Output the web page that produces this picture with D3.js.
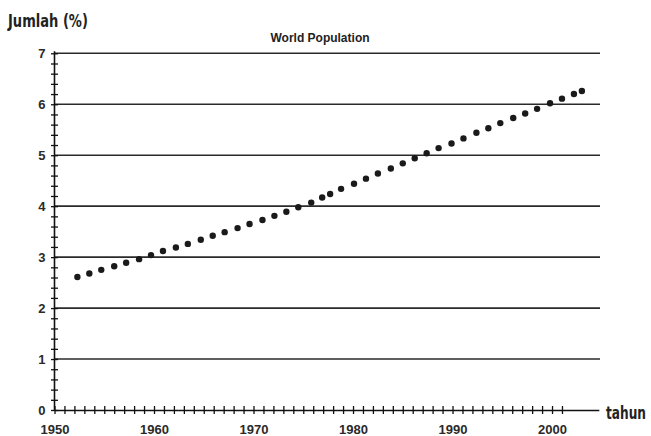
<!DOCTYPE html>
<html>
<head>
<meta charset="utf-8">
<script src="https://cdn.jsdelivr.net/npm/d3@7"></script>
<style>
  body { margin: 0; background: #fff; }
  svg { display: block; }
</style>
</head>
<body>
<div id="chart"></div>
<script>
// values (world population, billions)
const years = [1952.3, 1953.5, 1954.7, 1956.0, 1957.2, 1958.5, 1959.7, 1960.9, 1962.2, 1963.4,
    1964.7, 1965.9, 1967.1, 1968.4, 1969.6, 1970.9, 1972.1, 1973.3, 1974.5, 1975.8,
    1976.9, 1977.7, 1978.8, 1980.1, 1981.3, 1982.5, 1983.8, 1985.0, 1986.2, 1987.4,
    1988.6, 1989.9, 1991.1, 1992.4, 1993.6, 1994.8, 1996.1, 1997.3, 1998.5, 1999.8,
    2001.0, 2002.2, 2003.0];
const population = [2.61, 2.68, 2.75, 2.82, 2.89, 2.96, 3.04, 3.12, 3.19, 3.26,
    3.34, 3.42, 3.49, 3.57, 3.65, 3.73, 3.81, 3.89, 3.98, 4.07,
    4.17, 4.24, 4.34, 4.44, 4.54, 4.64, 4.74, 4.84, 4.94, 5.04,
    5.14, 5.23, 5.33, 5.44, 5.53, 5.63, 5.73, 5.82, 5.91, 6.02,
    6.11, 6.20, 6.26];
const yTicks = [0, 1, 2, 3, 4, 5, 6, 7];
const xLabels = [1950, 1960, 1970, 1980, 1990, 2000];

const W = 651, H = 436;
const svg = d3.select("#chart").append("svg")
    .attr("width", W)
    .attr("height", H);
svg.append("rect").attr("width", W).attr("height", H).attr("fill", "#fff");

const x = d3.scaleLinear().domain([1950, 2004.7]).range([54.5, 598.8]);
const y = d3.scaleLinear().domain([0, 7]).range([410, 53.3]);
const tickFont = "'Liberation Sans', Arial, sans-serif";

// grid lines at each whole percent
svg.append("g").selectAll("line")
    .data(yTicks.slice(1))
    .join("line")
    .attr("x1", x(1950)).attr("x2", 600)
    .attr("y1", d => y(d)).attr("y2", d => y(d))
    .attr("stroke", "#2a2a2a")
    .attr("stroke-width", 1.6);

// x axis: a tick every year, labels every decade
const xAxis = svg.append("g")
    .attr("transform", `translate(0,${y(0)})`)
    .call(d3.axisBottom(x)
        .tickValues(d3.range(1950, 2002))
        .tickFormat(d => xLabels.includes(d) ? d : "")
        .tickSizeOuter(0));
xAxis.select(".domain").attr("stroke", "#111").attr("stroke-width", 1.6);
xAxis.selectAll(".tick line").attr("y1", -4).attr("y2", 4)
    .attr("stroke", "#111").attr("stroke-width", 1.3);
xAxis.selectAll(".tick text")
    .attr("y", 15)
    .attr("font-family", tickFont)
    .attr("font-size", 13)
    .attr("font-weight", "bold")
    .attr("fill", "#2a2a2a");

// y axis: minor tick every 0.2
const yAxis = svg.append("g")
    .attr("transform", `translate(${x(1950)},0)`)
    .call(d3.axisLeft(y)
        .tickValues(d3.range(0, 7.01, 0.2))
        .tickFormat(d => Math.abs(d - Math.round(d)) < 1e-6 ? Math.round(d) : "")
        .tickSizeOuter(0));
yAxis.select(".domain").attr("stroke", "#111").attr("stroke-width", 1.6)
    .attr("d", `M0,${y(0)}V${y(7) - 2}`);
yAxis.selectAll(".tick line").attr("x1", -3.5).attr("x2", 3.5)
    .attr("stroke", "#111").attr("stroke-width", 1.3);
yAxis.selectAll(".tick text")
    .attr("x", -9)
    .attr("font-family", tickFont)
    .attr("font-size", 13)
    .attr("font-weight", "bold")
    .attr("fill", "#2a2a2a");

// points
svg.append("g").selectAll("circle")
    .data(years.map((yr, i) => ({year: yr, value: population[i]})))
    .join("circle")
    .attr("cx", d => x(d.year))
    .attr("cy", d => y(d.value))
    .attr("r", 3.2)
    .attr("fill", "#1a1a1a");

// titles
svg.append("text")
    .attr("x", 320).attr("y", 42)
    .attr("text-anchor", "middle")
    .attr("font-family", tickFont)
    .attr("font-size", 12)
    .attr("font-weight", "bold")
    .attr("fill", "#222")
    .text("World Population");

// axis captions: condensed face, squeezed horizontally to the reference width
const labelFont = "'DejaVu Sans Condensed', 'DejaVu Sans', sans-serif";
function caption(str, left, baseline, width) {
    const t = svg.append("text")
        .attr("font-family", labelFont)
        .attr("font-size", 17)
        .attr("font-weight", "bold")
        .attr("fill", "#222")
        .text(str);
    const sx = width / t.node().getComputedTextLength();
    t.attr("transform", `translate(${left},${baseline}) scale(${sx},1)`);
}
caption("Jumlah (%)", 8, 27, 80);
caption("tahun", 606, 419, 40);
</script>
</body>
</html>
